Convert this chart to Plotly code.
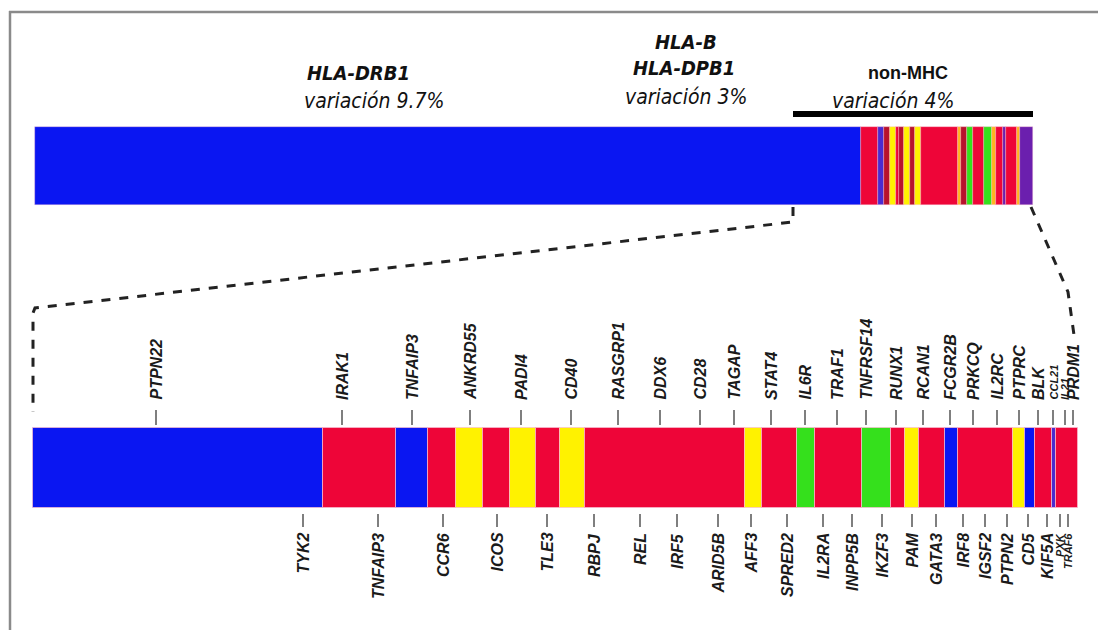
import plotly.graph_objects as go

# ---- colour codes of the association classes ----
BLUE, RED, YELLOW, GREEN = "#0a16f2", "#ee0538", "#fff200", "#35e01c"
DRED, ORANGE, PURPLE, VIOLET = "#b8122c", "#ffb41e", "#6b1fae", "#4b2bd0"

# ---- overview bar: MHC block followed by the non-MHC loci ----
top_widths = [826, 17, 6, 6, 6, 3, 5, 6, 5, 6, 37, 3, 6, 6, 11, 8, 4, 7, 3, 11, 3, 13]
top_colors = [BLUE, RED, VIOLET, DRED, YELLOW, RED, DRED, YELLOW, DRED, YELLOW, RED,
              ORANGE, DRED, GREEN, RED, GREEN, ORANGE, RED, PURPLE, RED, ORANGE, PURPLE]

# ---- expanded non-MHC bar ----
bot_widths = [290, 73, 32, 28, 27, 27, 26, 24, 25, 160, 17, 35, 18, 47, 29, 14, 14,
              26, 13, 55, 12, 10, 17, 4, 22]
bot_colors = [BLUE, RED, BLUE, RED, YELLOW, RED, YELLOW, RED, YELLOW, RED, YELLOW, RED,
              GREEN, RED, GREEN, RED, YELLOW, RED, BLUE, RED, YELLOW, BLUE, RED, VIOLET, RED]

# genes labelled above the expanded bar
genes_above = ["PTPN22", "IRAK1", "TNFAIP3", "ANKRD55", "PADI4", "CD40", "RASGRP1", "DDX6",
               "CD28", "TAGAP", "STAT4", "IL6R", "TRAF1", "TNFRSF14", "RUNX1", "RCAN1",
               "FCGR2B", "PRKCQ", "IL2RC", "PTPRC", "BLK", "CCL21", "IL21", "PRDM1"]
pos_above = [156, 342, 412, 470, 521, 571, 618, 660, 700, 734, 771, 805, 837, 866, 896,
             923, 950, 973, 997, 1019, 1038, 1053, 1065, 1073]

# genes labelled below the expanded bar
genes_below = ["TYK2", "TNFAIP3", "CCR6", "ICOS", "TLE3", "RBPJ", "REL", "IRF5", "ARID5B",
               "AFF3", "SPRED2", "IL2RA", "INPP5B", "IKZF3", "PAM", "GATA3", "IRF8", "IGSF2",
               "PTPN2", "CD5", "KIF5A", "PXK", "TRAF6"]
pos_below = [303, 378, 443, 497, 547, 594, 640, 677, 718, 751, 787, 823, 852, 882, 912,
             936, 963, 985, 1007, 1028, 1047, 1060, 1068]

small_genes = {"CCL21", "IL21", "PXK", "TRAF6"}

# ---- header text ----
headers = [
    ("HLA-DRB1", 358, 73, "bold"),
    ("variación 9.7%", 374, 101, "var"),
    ("HLA-B", 686, 42, "bold"),
    ("HLA-DPB1", 684, 68, "bold"),
    ("variación 3%", 686, 97, "var"),
    ("non-MHC", 908, 73, "plain"),
    ("variación 4%", 893, 101, "var"),
]

NARROW = "Liberation Sans Narrow, DejaVu Sans Condensed, Arial Narrow, sans-serif"
LABEL_FONT = "Liberation Sans, Arial, sans-serif"

TOP_X0, TOP_Y, TOP_H = 35, 166, 78
BOT_X0, BOT_Y, BOT_H = 33, 468, 80


def starts(x0, widths):
    out, acc = [], x0
    for w in widths:
        out.append(acc)
        acc += w
    return out


fig = go.Figure()

fig.add_trace(go.Bar(
    orientation="h", y=[TOP_Y] * len(top_widths), x=top_widths,
    base=starts(TOP_X0, top_widths), width=TOP_H,
    marker=dict(color=top_colors, line=dict(color="rgba(250,190,210,0.6)", width=0.6)),
    hoverinfo="skip", showlegend=False))

fig.add_trace(go.Bar(
    orientation="h", y=[BOT_Y] * len(bot_widths), x=bot_widths,
    base=starts(BOT_X0, bot_widths), width=BOT_H,
    marker=dict(color=bot_colors, line=dict(color="rgba(250,190,210,0.7)", width=1)),
    hoverinfo="skip", showlegend=False))

# tick marks for the gene labels
tx, ty = [], []
for p in pos_above:
    tx += [p, p, None]
    ty += [410, 425, None]
for p in pos_below:
    tx += [p, p, None]
    ty += [514, 527, None]
fig.add_trace(go.Scatter(x=tx, y=ty, mode="lines", line=dict(color="#555555", width=1.5),
                         hoverinfo="skip", showlegend=False))

# zoom connectors between the two bars
non_mhc_start = 793
non_mhc_end = TOP_X0 + sum(top_widths)
bot_end = BOT_X0 + sum(bot_widths)
fig.add_trace(go.Scatter(
    x=[non_mhc_start, non_mhc_start, BOT_X0 + 2, BOT_X0, BOT_X0],
    y=[207, 222, 308, 313, 412],
    mode="lines", line=dict(color="#222222", width=3, dash="dash"),
    hoverinfo="skip", showlegend=False))
fig.add_trace(go.Scatter(
    x=[non_mhc_end - 2, bot_end - 10, bot_end - 4],
    y=[207, 292, 335],
    mode="lines", line=dict(color="#222222", width=3, dash="dash"),
    hoverinfo="skip", showlegend=False))

# black bracket over the non-MHC loci
fig.add_trace(go.Scatter(x=[non_mhc_start, non_mhc_end], y=[114, 114], mode="lines",
                         line=dict(color="#000000", width=6),
                         hoverinfo="skip", showlegend=False))

annotations = []
for g, p in zip(genes_above, pos_above):
    annotations.append(dict(
        x=p, y=402, text=g, textangle=-90, showarrow=False,
        xanchor="center", yanchor="bottom",
        font=dict(family=LABEL_FONT, size=11 if g in small_genes else 16,
                  color="#1a1a1a", weight="bold", style="italic")))
for g, p in zip(genes_below, pos_below):
    annotations.append(dict(
        x=p, y=531, text=g, textangle=-90, showarrow=False,
        xanchor="center", yanchor="top",
        font=dict(family=LABEL_FONT, size=11 if g in small_genes else 16,
                  color="#1a1a1a", weight="bold", style="italic")))

for text, x, y, kind in headers:
    if kind == "bold":
        f = dict(family=NARROW, size=20, color="#111111", weight="bold", style="italic")
    elif kind == "plain":
        f = dict(family=LABEL_FONT, size=18, color="#111111", weight="bold")
    else:
        f = dict(family=NARROW, size=21, color="#111111", style="italic")
    annotations.append(dict(x=x, y=y, text=text, showarrow=False,
                            xanchor="center", yanchor="middle", font=f))

# picture frame
shapes = [
    dict(type="line", x0=9, x1=1098, y0=12, y1=12, line=dict(color="#8a8a8a", width=2.5)),
    dict(type="line", x0=10, x1=10, y0=11, y1=630, line=dict(color="#8a8a8a", width=2.5)),
]

fig.update_layout(
    width=1098, height=630,
    margin=dict(l=0, r=0, t=0, b=0),
    paper_bgcolor="white", plot_bgcolor="white",
    barmode="overlay", bargap=0,
    xaxis=dict(range=[0, 1098], visible=False, fixedrange=True),
    yaxis=dict(range=[630, 0], visible=False, fixedrange=True),
    annotations=annotations, shapes=shapes,
)

fig.write_html("out.html")
